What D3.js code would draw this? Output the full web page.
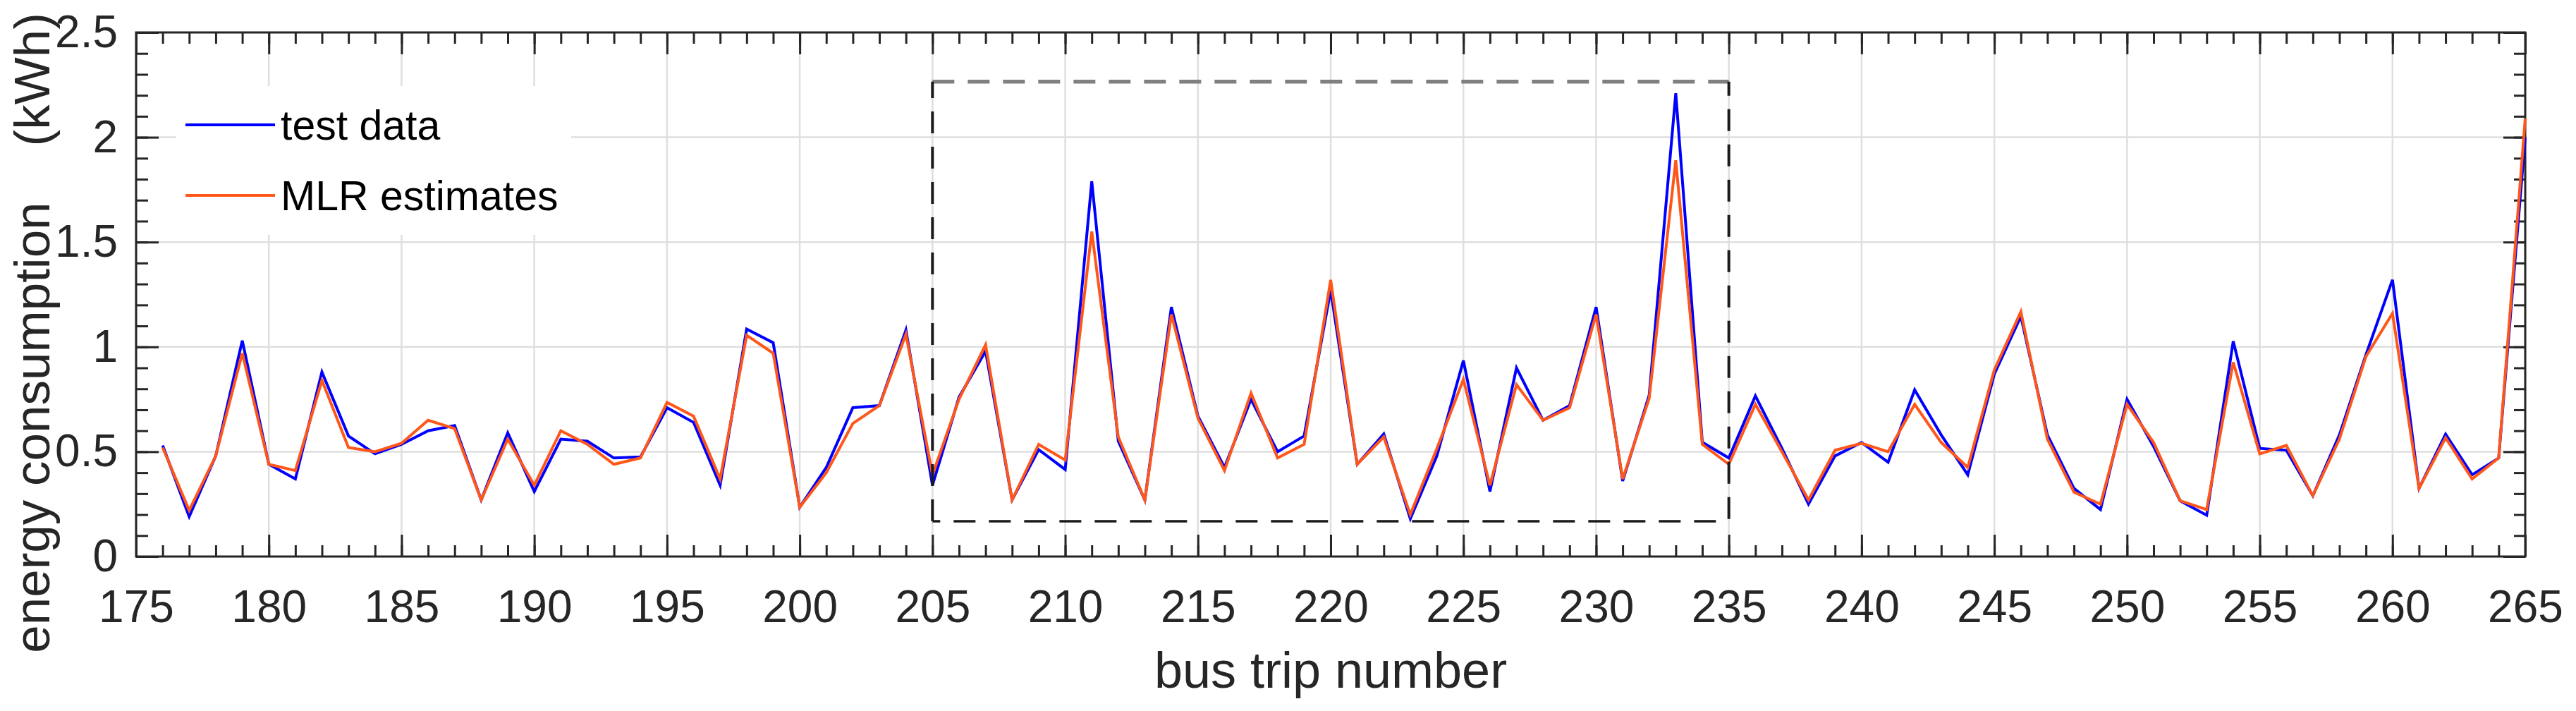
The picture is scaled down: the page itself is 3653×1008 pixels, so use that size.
<!DOCTYPE html>
<html>
<head>
<meta charset="utf-8">
<script src="https://cdn.jsdelivr.net/npm/d3@7"></script>
<style>
  body { margin: 0; background: #fff; }
  svg { display: block; font-family: "Liberation Sans", Arial, Helvetica, sans-serif; }
  .axis text { fill: #262626; }
  .axis line { stroke: #262626; stroke-width: 3; }
  .axis path { display: none; }
</style>
</head>
<body>
<div id="chart"></div>
<script>
// bus trip numbers (x categories)
var trips = [176,177,178,179,180,181,182,183,184,185,186,187,188,189,190,191,192,193,194,195,
  196,197,198,199,200,201,202,203,204,205,206,207,208,209,210,211,212,213,214,215,
  216,217,218,219,220,221,222,223,224,225,226,227,228,229,230,231,232,233,234,235,
  236,237,238,239,240,241,242,243,244,245,246,247,248,249,250,251,252,253,254,255,
  256,257,258,259,260,261,262,263,264,265];

// measured energy consumption (kWh)
var testData = [0.53,0.19,0.48,1.03,0.44,0.37,0.88,0.575,0.49,0.535,
  0.60,0.625,0.27,0.59,0.31,0.56,0.55,0.47,0.475,0.71,
  0.64,0.34,1.085,1.02,0.235,0.425,0.71,0.72,1.08,0.34,
  0.76,0.98,0.27,0.51,0.415,1.79,0.55,0.27,1.19,0.67,
  0.425,0.75,0.50,0.575,1.27,0.44,0.585,0.18,0.48,0.935,
  0.31,0.90,0.65,0.72,1.19,0.36,0.77,2.21,0.545,0.47,
  0.766,0.516,0.25,0.48,0.544,0.45,0.795,0.58,0.39,0.87,
  1.146,0.58,0.325,0.224,0.75,0.525,0.266,0.197,1.027,0.516,
  0.507,0.29,0.58,0.963,1.32,0.325,0.584,0.39,0.47,2.0];

// MLR model estimates (kWh)
var mlrEstimates = [0.52,0.22,0.48,0.97,0.44,0.41,0.84,0.52,0.50,0.54,
  0.65,0.61,0.27,0.56,0.34,0.60,0.535,0.44,0.47,0.735,
  0.67,0.37,1.055,0.97,0.235,0.40,0.635,0.72,1.06,0.39,
  0.75,1.01,0.27,0.535,0.46,1.55,0.57,0.27,1.155,0.66,
  0.41,0.78,0.47,0.535,1.32,0.44,0.57,0.20,0.515,0.845,
  0.34,0.82,0.65,0.71,1.155,0.37,0.755,1.89,0.535,0.44,
  0.726,0.50,0.27,0.507,0.54,0.50,0.726,0.544,0.425,0.89,
  1.168,0.56,0.307,0.25,0.726,0.544,0.266,0.224,0.927,0.49,
  0.53,0.29,0.56,0.954,1.16,0.325,0.566,0.37,0.47,2.09];

// tick labels
var xTicks = [175,180,185,190,195,200,205,210,215,220,225,230,235,240,245,250,255,260,265];
var yTicks = [0,0.5,1,1.5,2,2.5];

// highlighted region (trip range and energy range)
var boxTrips = [205, 235];
var boxEnergy = [0.168, 2.265];

var W = 3653, H = 1008;
var pLeft = 193, pRight = 3581, pTop = 46, pBottom = 789;

var x = d3.scaleLinear().domain([175, 265]).range([pLeft, pRight]);
var y = d3.scaleLinear().domain([0, 2.5]).range([pBottom, pTop]);

var minorX = d3.range(175, 266, 1);
var minorY = d3.range(0, 26, 1).map(function(d) { return d / 10; });

var svg = d3.select("#chart").append("svg")
    .attr("width", W)
    .attr("height", H);

svg.append("rect").attr("width", W).attr("height", H).attr("fill", "#fff");

// grid
var grid = svg.append("g").attr("stroke", "#dfdfdf").attr("stroke-width", 2.5);
grid.selectAll(".gx").data(xTicks).enter().append("line")
    .attr("x1", function(d) { return x(d); }).attr("x2", function(d) { return x(d); })
    .attr("y1", pTop).attr("y2", pBottom);
grid.selectAll(".gy").data(yTicks).enter().append("line")
    .attr("x1", pLeft).attr("x2", pRight)
    .attr("y1", function(d) { return y(d); }).attr("y2", function(d) { return y(d); });

// axes: major + minor ticks, pointing inward, on all four sides
function addAxis(axis, tx, ty, cls) {
  return svg.append("g")
      .attr("class", "axis " + cls)
      .attr("transform", "translate(" + tx + "," + ty + ")")
      .call(axis);
}

addAxis(d3.axisBottom(x).tickValues(minorX).tickSize(-16).tickFormat(""), 0, pBottom, "minor");
addAxis(d3.axisTop(x).tickValues(minorX).tickSize(-16).tickFormat(""), 0, pTop, "minor");
addAxis(d3.axisLeft(y).tickValues(minorY).tickSize(-17).tickFormat(""), pLeft, 0, "minor");
addAxis(d3.axisRight(y).tickValues(minorY).tickSize(-16).tickFormat(""), pRight, 0, "minor");

var xAxis = addAxis(d3.axisBottom(x).tickValues(xTicks).tickSize(-31).tickSizeOuter(0)
    .tickPadding(48).tickFormat(d3.format("d")), 0, pBottom, "x");
xAxis.attr("font-size", 64).attr("font-family", null);

addAxis(d3.axisTop(x).tickValues(xTicks).tickSize(-31).tickFormat(""), 0, pTop, "xt");

var yAxis = addAxis(d3.axisLeft(y).tickValues(yTicks).tickSize(-32).tickSizeOuter(0)
    .tickPadding(26).tickFormat(function(d) { return String(d); }), pLeft, 0, "y");
yAxis.attr("font-size", 64).attr("font-family", null);

addAxis(d3.axisRight(y).tickValues(yTicks).tickSize(-31).tickFormat(""), pRight, 0, "yr");

// box
svg.append("rect")
    .attr("x", pLeft).attr("y", pTop)
    .attr("width", pRight - pLeft).attr("height", pBottom - pTop)
    .attr("fill", "none").attr("stroke", "#262626").attr("stroke-width", 3);

// series
var line = d3.line()
    .x(function(d) { return x(d[0]); })
    .y(function(d) { return y(d[1]); });

var series = [
  { name: "test data", color: "#0000ff", values: d3.zip(trips, testData) },
  { name: "MLR estimates", color: "#ff5719", values: d3.zip(trips, mlrEstimates) }
];

svg.selectAll(".series").data(series).enter().append("path")
    .attr("class", "series")
    .attr("d", function(d) { return line(d.values); })
    .attr("fill", "none")
    .attr("stroke", function(d) { return d.color; })
    .attr("stroke-width", 4);

// dashed highlight box
var bx0 = x(boxTrips[0]), bx1 = x(boxTrips[1]),
    by0 = y(boxEnergy[0]), by1 = y(boxEnergy[1]);
var dash = svg.append("g").attr("fill", "none");
dash.append("line").attr("x1", bx0).attr("y1", by1).attr("x2", bx1).attr("y2", by1)
    .attr("stroke", "#808080").attr("stroke-width", 5.5).attr("stroke-dasharray", "31,19");
dash.append("line").attr("x1", bx0).attr("y1", by0).attr("x2", bx0).attr("y2", by1)
    .attr("stroke", "#1a1a1a").attr("stroke-width", 4).attr("stroke-dasharray", "31,19");
dash.append("line").attr("x1", bx0).attr("y1", by0).attr("x2", bx1).attr("y2", by0)
    .attr("stroke", "#1a1a1a").attr("stroke-width", 3.5).attr("stroke-dasharray", "31,19")
    .attr("stroke-dashoffset", 20);
dash.append("line").attr("x1", bx1).attr("y1", by1).attr("x2", bx1).attr("y2", by0)
    .attr("stroke", "#1a1a1a").attr("stroke-width", 4).attr("stroke-dasharray", "31,19")
    .attr("stroke-dashoffset", 11);

// legend
var legend = svg.append("g");
legend.append("rect")
    .attr("x", 250).attr("y", 122).attr("width", 560).attr("height", 211)
    .attr("fill", "#fff");
var li = legend.selectAll(".li").data(series).enter().append("g")
    .attr("transform", function(d, i) { return "translate(263," + (177 + i * 100) + ")"; });
li.append("line").attr("x1", 0).attr("x2", 127)
    .attr("stroke", function(d) { return d.color; }).attr("stroke-width", 4);
li.append("text")
    .attr("x", 135).attr("dy", "0.35em")
    .attr("font-size", 59).attr("fill", "#000")
    .text(function(d) { return d.name; });

// axis labels
svg.append("text")
    .attr("x", (pLeft + pRight) / 2).attr("y", 975)
    .attr("text-anchor", "middle").attr("font-size", 72).attr("fill", "#262626")
    .text("bus trip number");

svg.append("text")
    .attr("transform", "translate(70,472) rotate(-90)")
    .attr("text-anchor", "middle").attr("font-size", 71).attr("fill", "#262626")
    .text("energy consumption\u00a0\u00a0\u00a0\u00a0(kWh)");
</script>
</body>
</html>
